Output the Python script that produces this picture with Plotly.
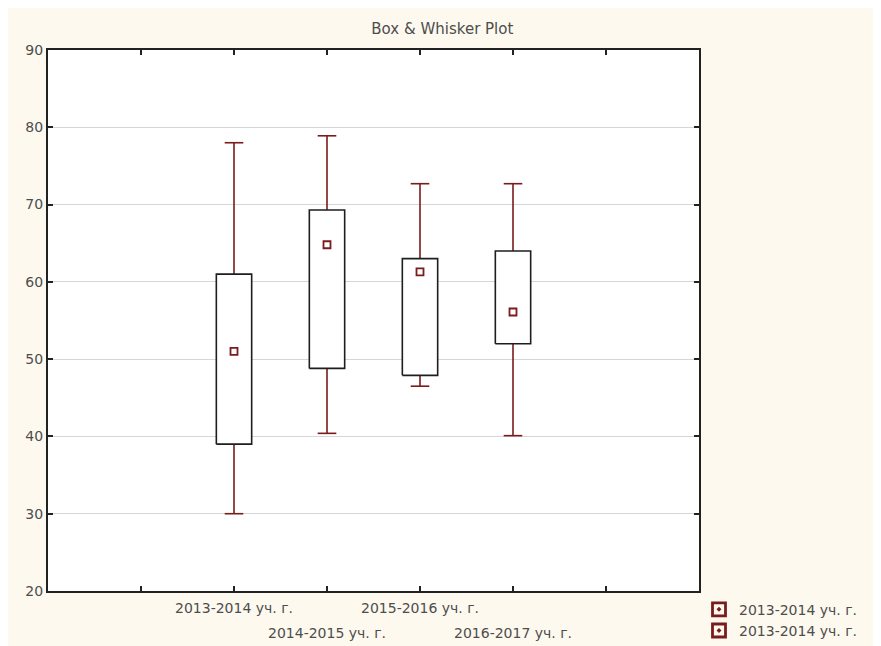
import plotly.graph_objects as go

# ---- data ----
categories = ["2013-2014 уч. г.", "2014-2015 уч. г.", "2015-2016 уч. г.", "2016-2017 уч. г."]
positions = [2, 3, 4, 5]
whisker_low = [30.0, 40.4, 46.5, 40.1]
box_low = [39.0, 48.8, 47.9, 52.0]
mean_vals = [51.0, 64.8, 61.3, 56.1]
box_high = [61.0, 69.3, 63.0, 64.0]
whisker_high = [78.0, 78.9, 72.7, 72.7]
legend_labels = ["2013-2014 уч. г.", "2013-2014 уч. г."]
y_ticks = [20, 30, 40, 50, 60, 70, 80, 90]

WHISK = "#7a1c1c"
BOXLINE = "#1e1e1e"
TEXT = "#4d4d4d"
FONT = "DejaVu Sans"
box_half = 0.19
cap_half = 0.1

fig = go.Figure()

# whiskers with caps
wx, wy = [], []
for p, wl, bl, bh, wh in zip(positions, whisker_low, box_low, box_high, whisker_high):
    wx += [p, p, None, p - cap_half, p + cap_half, None, p, p, None, p - cap_half, p + cap_half, None]
    wy += [bh, wh, None, wh, wh, None, bl, wl, None, wl, wl, None]
fig.add_trace(go.Scatter(x=wx, y=wy, mode="lines", line=dict(color=WHISK, width=1.6),
                         showlegend=False, hoverinfo="skip"))

# boxes
for p, bl, bh in zip(positions, box_low, box_high):
    fig.add_trace(go.Scatter(
        x=[p - box_half, p + box_half, p + box_half, p - box_half, p - box_half],
        y=[bl, bl, bh, bh, bl], mode="lines", fill="toself", fillcolor="white",
        line=dict(color=BOXLINE, width=1.6), showlegend=False, hoverinfo="skip"))

# mean markers
fig.add_trace(go.Scatter(x=positions, y=mean_vals, mode="markers",
                         marker=dict(symbol="square-open", size=7, color=WHISK, line=dict(width=1.8)),
                         showlegend=False))

# legend entries
for lab in legend_labels:
    fig.add_trace(go.Scatter(x=[None], y=[None], mode="markers", name=lab,
                             marker=dict(symbol="square-open-dot", size=13, color=WHISK,
                                         line=dict(width=2.8))))

# staggered category labels
for i, (p, c) in enumerate(zip(positions, categories)):
    fig.add_annotation(x=p, y=(-0.031 if i % 2 == 0 else -0.077), xref="x", yref="paper",
                       text=c, showarrow=False, xanchor="center", yanchor="middle",
                       font=dict(family=FONT, size=14, color=TEXT))

fig.update_layout(
    width=881, height=646,
    margin=dict(l=40, r=190, t=42, b=63, autoexpand=False),
    paper_bgcolor="#fdf9ef",
    plot_bgcolor="white",
    title=dict(text="Box & Whisker Plot", x=0.493, xanchor="center", y=0.968, yanchor="middle",
               font=dict(family=FONT, size=15, color=TEXT)),
    showlegend=True,
    legend=dict(x=1.0, xanchor="left", y=-0.005, yanchor="top", bgcolor="rgba(0,0,0,0)",
                font=dict(family=FONT, size=14, color=TEXT), tracegroupgap=0,
                itemwidth=30),
    xaxis=dict(range=[0, 7], tickvals=[1, 2, 3, 4, 5, 6], showticklabels=False,
               ticks="inside", ticklen=5, tickcolor="#222", tickwidth=1.5,
               showgrid=False, zeroline=False, showline=True, linecolor="#222", linewidth=2,
               mirror="ticks"),
    yaxis=dict(range=[20, 90], tickvals=y_ticks, ticks="inside", ticklen=5,
               tickcolor="#222", tickwidth=1.5,
               showgrid=True, gridcolor="#d6d6d6", gridwidth=1.2, zeroline=False,
               showline=True, linecolor="#222", linewidth=2, mirror="ticks",
               tickfont=dict(family=FONT, size=14, color=TEXT)),
    font=dict(family=FONT, color=TEXT),
)

fig.write_html("out.html")
